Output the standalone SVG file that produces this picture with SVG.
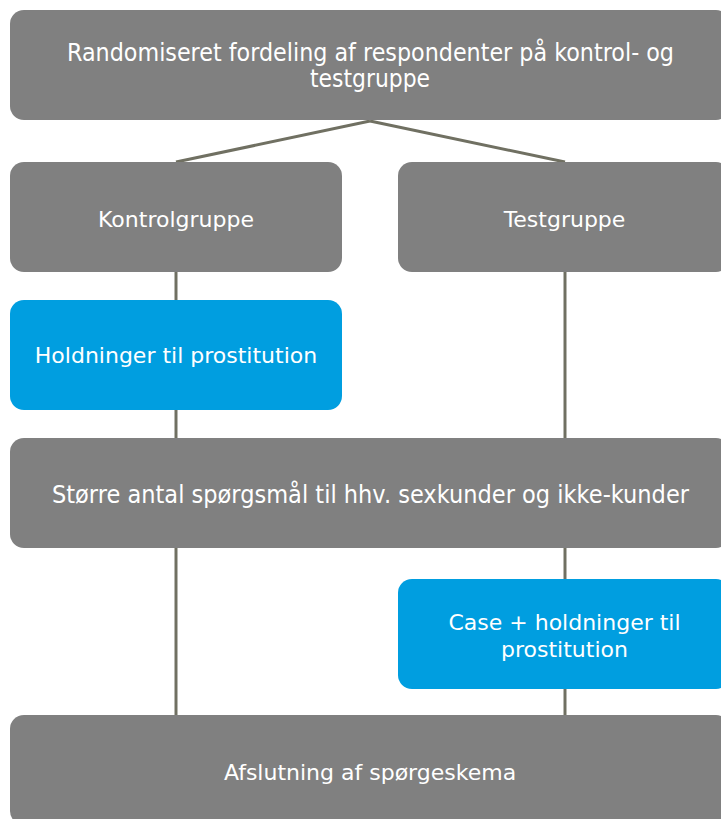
<svg xmlns="http://www.w3.org/2000/svg" width="721" height="819" viewBox="0 0 721 819">
<style>
.g{fill:#808080}
.b{fill:#009EE0}
.t{font-family:"DejaVu Sans",Verdana,sans-serif;font-size:22px;fill:#ffffff;text-anchor:middle}
.c{font-size:24px}
.l{stroke:#707062;stroke-width:3;fill:none}
</style>
<g id="connectors">
<line class="l" x1="370" y1="121" x2="176" y2="162"/>
<line class="l" x1="370" y1="121" x2="565" y2="162"/>
<line class="l" x1="176" y1="272" x2="176" y2="300"/>
<line class="l" x1="176" y1="410" x2="176" y2="438"/>
<line class="l" x1="176" y1="548" x2="176" y2="715"/>
<line class="l" x1="565" y1="272" x2="565" y2="438"/>
<line class="l" x1="565" y1="548" x2="565" y2="579"/>
<line class="l" x1="565" y1="689" x2="565" y2="715"/>
</g>
<g id="n1">
<rect class="g" x="10" y="10" width="720" height="110" rx="14"/>
<text class="t c" x="370.5" y="61" textLength="607" lengthAdjust="spacingAndGlyphs">Randomiseret fordeling af respondenter på kontrol- og</text>
<text class="t c" x="370" y="87" textLength="120" lengthAdjust="spacingAndGlyphs">testgruppe</text>
</g>
<g id="n2">
<rect class="g" x="10" y="162" width="332" height="110" rx="14"/>
<text class="t" x="176" y="227">Kontrolgruppe</text>
</g>
<g id="n3">
<rect class="g" x="398" y="162" width="332" height="110" rx="14"/>
<text class="t" x="564.5" y="227">Testgruppe</text>
</g>
<g id="n4">
<rect class="b" x="10" y="300" width="332" height="110" rx="14"/>
<text class="t" x="176" y="363">Holdninger til prostitution</text>
</g>
<g id="n5">
<rect class="g" x="10" y="438" width="720" height="110" rx="14"/>
<text class="t c" x="370.5" y="503" textLength="637" lengthAdjust="spacingAndGlyphs">Større antal spørgsmål til hhv. sexkunder og ikke-kunder</text>
</g>
<g id="n6">
<rect class="b" x="398" y="579" width="332" height="110" rx="14"/>
<text class="t" x="564.5" y="630">Case + holdninger til</text>
<text class="t" x="564.5" y="657">prostitution</text>
</g>
<g id="n7">
<rect class="g" x="10" y="715" width="720" height="110" rx="14"/>
<text class="t" x="370" y="780">Afslutning af spørgeskema</text>
</g>
</svg>
